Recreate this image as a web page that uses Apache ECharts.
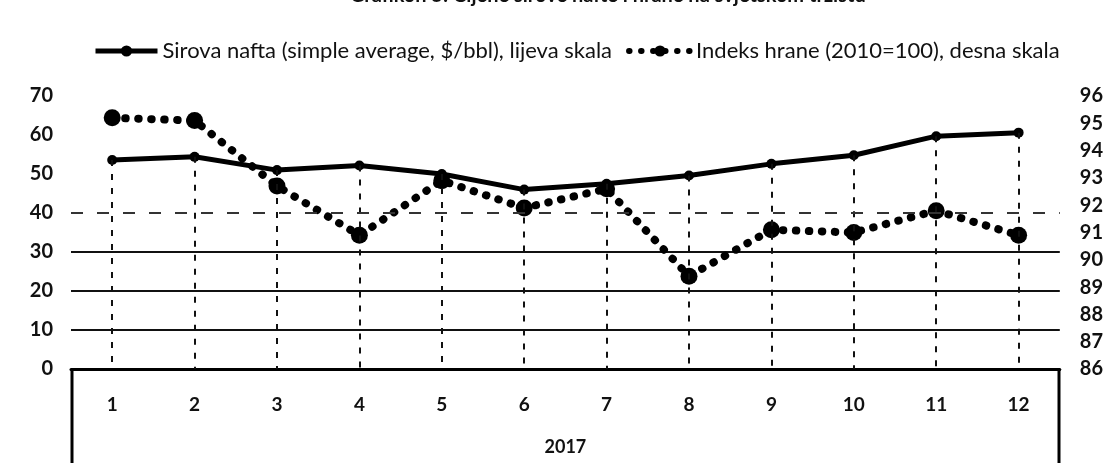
<!DOCTYPE html>
<html>
<head>
<meta charset="utf-8">
<script src="https://cdn.jsdelivr.net/npm/echarts@6/dist/echarts.min.js"></script>
<style>
  html, body { margin: 0; padding: 0; background: #fff; }
  #chart { width: 1106px; height: 463px; }
</style>
</head>
<body>
<div id="chart"></div>
<script>
const months = ['1', '2', '3', '4', '5', '6', '7', '8', '9', '10', '11', '12']
const year = '2017'
const oilName = 'Sirova nafta (simple average, $/bbl), lijeva skala'
const foodName = 'Indeks hrane (2010=100), desna skala'
const oilPrice = [53.6, 54.4, 51.0, 52.2, 50.0, 46.0, 47.5, 49.6, 52.6, 54.8, 59.7, 60.6]
const foodIndex = [95.2, 95.1, 92.7, 90.9, 92.9, 91.9, 92.6, 89.4, 91.1, 91.0, 91.8, 90.9]

const GRID = { left: 71, right: 46, top: 96, bottom: 94 }
const W = 1106, H = 463
const FONT = 'Lato, "Open Sans", sans-serif'

const chart = echarts.init(document.getElementById('chart'))

// excel-style drop lines from each oil point down to the axis
const dropLines = oilPrice.map((v, i) => [
  { coord: [i, v] },
  { coord: [i, 0] }
])

chart.setOption({
  backgroundColor: '#fff',
  animation: false,
  title: {
    text: 'Grafikon 5: Cijene sirove nafte i hrane na svjetskom tržištu',
    left: 345,
    top: -19,
    textStyle: { fontFamily: FONT, fontSize: 20, fontWeight: 'bold', color: '#111' }
  },
  legend: {
    top: 35,
    left: 88,
    itemWidth: 62,
    itemHeight: 14,
    itemGap: 14,
    textStyle: { fontFamily: FONT, fontSize: 22, color: '#111' },
    data: [
      { name: oilName, lineStyle: { width: 5 } },
      { name: foodName, lineStyle: { width: 6, type: [0.5, 11.5], cap: 'round' } }
    ]
  },
  grid: GRID,
  xAxis: {
    type: 'category',
    data: months,
    boundaryGap: true,
    axisLine: { lineStyle: { color: '#000', width: 3 } },
    axisTick: { show: false },
    axisLabel: { margin: 26, fontFamily: FONT, fontSize: 19, fontWeight: 'bold', color: '#111' },
    name: year,
    nameLocation: 'middle',
    nameGap: 69,
    nameTextStyle: { fontFamily: FONT, fontSize: 18, fontWeight: 'bold', color: '#111' }
  },
  yAxis: [
    {
      type: 'value',
      min: 0,
      max: 70,
      interval: 10,
      axisLine: { show: false },
      axisTick: { show: false },
      axisLabel: { margin: 18, fontFamily: FONT, fontSize: 20, fontWeight: 'bold', color: '#111' },
      splitLine: {
        lineStyle: {
          width: 2,
          color: ['transparent', '#111', '#111', '#111', 'transparent', 'transparent', 'transparent', 'transparent']
        }
      }
    },
    {
      type: 'value',
      min: 86,
      max: 96,
      interval: 1,
      axisLine: { show: false },
      axisTick: { show: false },
      axisLabel: { margin: 20, fontFamily: FONT, fontSize: 20, fontWeight: 'bold', color: '#111' },
      splitLine: { show: false }
    }
  ],
  graphic: [
    {
      type: 'line',
      shape: { x1: GRID.left + 1, y1: H - GRID.bottom, x2: GRID.left + 1, y2: H + 5 },
      style: { stroke: '#000', lineWidth: 3 }
    },
    {
      type: 'line',
      shape: { x1: W - GRID.right - 1, y1: H - GRID.bottom, x2: W - GRID.right - 1, y2: H + 5 },
      style: { stroke: '#000', lineWidth: 3 }
    }
  ],
  series: [
    {
      name: oilName,
      type: 'line',
      data: oilPrice,
      z: 4,
      color: '#000',
      symbol: 'circle',
      symbolSize: 10,
      lineStyle: { width: 5, color: '#000' },
      itemStyle: { color: '#000' },
      markLine: {
        silent: true,
        symbol: 'none',
        label: { show: false },
        animation: false,
        lineStyle: { color: '#111', width: 2, type: [6, 8] },
        data: [
          ...dropLines,
          { yAxis: 40, lineStyle: { color: '#333', width: 2, type: [12, 14] } }
        ]
      }
    },
    {
      name: foodName,
      type: 'line',
      yAxisIndex: 1,
      data: foodIndex,
      z: 3,
      color: '#000',
      symbol: 'circle',
      symbolSize: 17,
      lineStyle: { width: 8, color: '#000', type: [0.5, 12.5], cap: 'round' },
      itemStyle: { color: '#000' }
    }
  ]
})
</script>
</body>
</html>
